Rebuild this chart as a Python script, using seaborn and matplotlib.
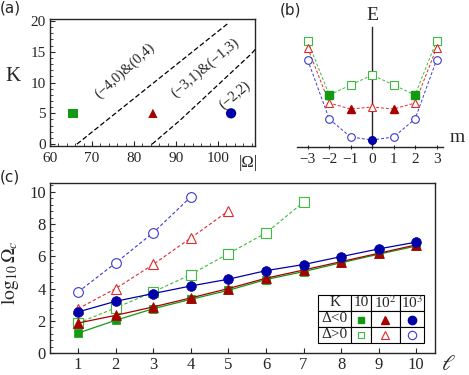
import numpy as np
import pandas as pd
import seaborn as sns
import matplotlib.pyplot as plt
from matplotlib.ticker import MultipleLocator

sns.set_style("ticks")
plt.rcParams["font.family"] = "serif"
plt.rcParams["font.serif"] = ["Liberation Serif", "DejaVu Serif"]
plt.rcParams["mathtext.fontset"] = "stix"

# ---- panel (a): phase boundaries ----
bound1_omega = [66.4, 91.0, 102.4]
bound1_k = [0.0, 13.4, 19.6]
bound2_omega = [84.3, 91.0, 108.0, 109.0]
bound2_k = [0.0, 3.9, 14.7, 15.5]
pts_omega = [65.5, 84.5, 103.1]
pts_k = [5.0, 5.0, 5.0]
region_labels = ["(\u22124,0)&(0,4)", "(\u22123,1)&(\u22121,3)", "(\u22122,2)"]
region_pos = [(77.9, 11.9), (96.9, 12.4), (103.9, 8.0)]
region_rot = [42, 40, 40]

# ---- panel (b): spectrum E(m) ----
m_vals = [-3, -2, -1, 0, 1, 2, 3]
e_k10 = [10.6, 5.2, 6.2, 7.2, 6.2, 5.2, 10.6]
e_k100 = [9.9, 4.4, 3.8, 4.0, 3.8, 4.4, 9.9]
e_k1000 = [8.7, 2.8, 1.0, 0.7, 1.0, 2.8, 8.7]
fill_k10 = [-2, 2]
fill_k100 = [-1, 1]
fill_k1000 = [0]

# ---- panel (c): log10 Omega_c vs ell ----
ell = list(range(1, 11))
neg_k10 = [1.24, 2.03, 2.75, 3.33, 3.89, 4.56, 5.05, 5.60, 6.13, 6.64]
neg_k100 = [1.86, 2.34, 2.86, 3.42, 4.00, 4.64, 5.15, 5.67, 6.19, 6.71]
neg_k1000 = [2.55, 3.21, 3.69, 4.16, 4.58, 5.11, 5.49, 5.98, 6.46, 6.88]
pos_k10 = [1.86, 2.80, 3.79, 4.87, 6.17, 7.45, 9.36]
pos_k100 = [2.75, 4.00, 5.50, 7.14, 8.82]
pos_k1000 = [3.79, 5.59, 7.47, 9.69]

green, green_l = "#139a13", "#3cbc3c"
red, red_l = "#a80000", "#dd2a2a"
blue, blue_l = "#0000a8", "#3a3ad0"

fig = plt.figure(figsize=(4.69, 3.75), dpi=100)
W, H = 469.0, 375.0


def px_axes(left, right, top, bottom):
    return fig.add_axes([left / W, 1 - bottom / H, (right - left) / W, (bottom - top) / H])


# ================= (a) =================
axa = px_axes(50, 255, 19, 146)
for om, kk in [(bound1_omega, bound1_k), (bound2_omega, bound2_k)]:
    sns.lineplot(x=om, y=kk, ax=axa, color="black", lw=0.9, linestyle=(0, (4, 2)), sort=False)
sns.scatterplot(x=pts_omega[:1], y=pts_k[:1], ax=axa, marker="s", color=green, s=45, edgecolor="none")
sns.scatterplot(x=pts_omega[1:2], y=pts_k[1:2], ax=axa, marker="^", color=red, s=45, edgecolor="none")
sns.scatterplot(x=pts_omega[2:], y=pts_k[2:], ax=axa, marker="o", color=blue, s=55, edgecolor="none")
for lab, (x, y), r in zip(region_labels, region_pos, region_rot):
    axa.text(x, y, lab, rotation=r, ha="center", va="center", rotation_mode="anchor", fontsize=10.5)
axa.set_xlim(60, 108.8)
axa.set_ylim(-0.3, 20.3)
axa.xaxis.set_major_locator(MultipleLocator(10))
axa.xaxis.set_minor_locator(MultipleLocator(2))
axa.yaxis.set_major_locator(MultipleLocator(5))
axa.yaxis.set_minor_locator(MultipleLocator(1))
axa.tick_params(which="both", direction="in", labelsize=11)
axa.tick_params(axis="x", pad=4)
axa.tick_params(axis="y", pad=3)
axa.tick_params(which="major", length=3.5)
axa.tick_params(which="minor", length=2)
axa.set_ylabel("K", rotation=0, fontsize=15)
axa.yaxis.set_label_coords(-0.18, 0.47)
axa.text(0.965, -0.13, "|\u03a9|", transform=axa.transAxes, ha="center", va="center", fontsize=12)
for s in axa.spines.values():
    s.set_linewidth(1.0)

# ================= (b) =================
axb = px_axes(297, 443, 27, 147)
for e, full, fill, mk, c_dark, c_light in [
    (e_k10, m_vals, fill_k10, "s", green, green_l),
    (e_k100, m_vals, fill_k100, "^", red, red_l),
    (e_k1000, m_vals, fill_k1000, "o", blue, blue_l),
]:
    df = pd.DataFrame({"m": full, "E": e})
    sns.lineplot(data=df, x="m", y="E", ax=axb, color=c_light, lw=0.7, linestyle=(0, (3, 2)))
    opn = df[~df["m"].isin(fill)]
    fil = df[df["m"].isin(fill)]
    axb.plot(opn["m"], opn["E"], ls="none", marker=mk, ms=5.5, mfc="white", mec=c_light, mew=0.8, clip_on=False, zorder=3)
    axb.plot(fil["m"], fil["E"], ls="none", marker=mk, ms=5.5, mfc=c_dark, mec=c_dark, clip_on=False, zorder=4)
axb.set_xlim(-3.5, 3.3)
axb.set_ylim(0, 12)
axb.spines["left"].set_position(("data", 0))
axb.spines["top"].set_visible(False)
axb.spines["right"].set_visible(False)
axb.spines["left"].set_linewidth(1.0)
axb.spines["bottom"].set_linewidth(1.0)
axb.set_yticks([])
axb.set_xticks(m_vals)
axb.set_xticklabels(["\u22123", "\u22122", "\u22121", "0", "1", "2", "3"])
axb.tick_params(axis="x", direction="inout", length=3, labelsize=11, pad=3)
axb.set_xlabel("")
axb.set_ylabel("")
axb.text(0, 13.2, "E", ha="center", va="center", fontsize=14)
axb.text(3.95, 1.0, "m", ha="center", va="center", fontsize=14)
axb.patch.set_alpha(0)

# ================= (c) =================
axc = px_axes(50, 435, 183, 353)
series = [
    (pos_k1000, "o", blue_l, False),
    (pos_k100, "^", red_l, False),
    (pos_k10, "s", green_l, False),
    (neg_k10, "s", green, True),
    (neg_k100, "^", red, True),
    (neg_k1000, "o", blue, True),
]
for vals, mk, col, filled in series:
    x = ell[: len(vals)]
    if filled:
        sns.lineplot(x=x, y=vals, ax=axc, color=col, lw=0.9, marker=mk, markersize=7 if mk != "s" else 6,
                     markerfacecolor=col, markeredgecolor=col, markeredgewidth=0.5)
    else:
        sns.lineplot(x=x, y=vals, ax=axc, color=col, lw=0.8, linestyle=(0, (3, 2)), marker=mk,
                     markersize=7 if mk != "s" else 6.5, markerfacecolor="white",
                     markeredgecolor=col, markeredgewidth=0.8)
axc.set_xlim(0.25, 10.5)
axc.set_ylim(0, 10.55)
axc.set_xticks(ell)
axc.yaxis.set_major_locator(MultipleLocator(2))
axc.yaxis.set_minor_locator(MultipleLocator(0.4))
axc.tick_params(which="both", direction="in", labelsize=12, pad=3)
axc.tick_params(which="major", length=3.5)
axc.tick_params(which="minor", length=2)
axc.set_xlabel("")
axc.set_ylabel(r"$\log_{10}\Omega_c$", fontsize=14)
axc.yaxis.set_label_coords(-0.075, 0.47)
axc.text(1.034, -0.076, r"$\ell$", transform=axc.transAxes, ha="center", va="center", fontsize=16)
for s in axc.spines.values():
    s.set_linewidth(1.0)

# legend table
col_w = np.array([33, 20, 29, 24], dtype=float)
col_w = col_w / col_w.sum()
tab = axc.table(
    cellText=[["K", "10", "10$^2$", "10$^3$"], ["\u0394<0", "", "", ""], ["\u0394>0", "", "", ""]],
    colWidths=list(col_w),
    cellLoc="center",
    bbox=[0.697, 0.061, 0.274, 0.28],
)
tab.auto_set_font_size(False)
tab.set_fontsize(11)
for cell in tab.get_celld().values():
    cell.set_linewidth(0.8)
    cell.PAD = 0.02
col_cx = [0.808, 0.871, 0.940]
row_cy = [0.194, 0.105]
leg_spec = [("s", green, green_l, 5), ("^", red, red_l, 5.5), ("o", blue, blue_l, 6)]
for cx, (mk, cd, cl, ms) in zip(col_cx, leg_spec):
    axc.plot([cx], [row_cy[0]], transform=axc.transAxes, marker=mk, ms=ms, mfc=cd, mec=cd, ls="none", clip_on=False, zorder=6)
    axc.plot([cx], [row_cy[1]], transform=axc.transAxes, marker=mk, ms=ms, mfc="white", mec=cl, mew=0.8, ls="none", clip_on=False, zorder=6)

# panel labels
for lab, x, y in [("(a)", 0.0, 1 - 8 / H), ("(b)", 280 / W, 1 - 10 / H), ("(c)", 0.0, 1 - 177 / H)]:
    fig.text(x, y, lab, fontsize=11, family="DejaVu Sans", va="center", ha="left")

fig.savefig("out.png", dpi=100)
